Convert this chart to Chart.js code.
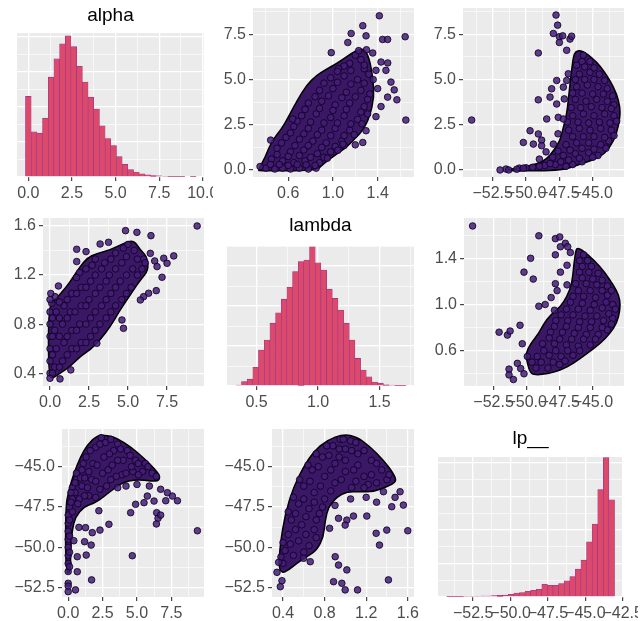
<!DOCTYPE html>
<html>
<head>
<meta charset="utf-8">
<script src="https://cdn.jsdelivr.net/npm/chart.js@4.4.1/dist/chart.umd.min.js"></script>
<style>
  body { margin: 0; background: #fff; }
  #wrap { position: relative; width: 643px; height: 621px; overflow: hidden; }
  #wrap canvas { position: absolute; }
</style>
</head>
<body>
<div id="wrap">
  <canvas id="c11" width="213" height="207" style="left:0;top:0"></canvas>
  <canvas id="c12" width="214" height="207" style="left:214px;top:0"></canvas>
  <canvas id="c13" width="215" height="207" style="left:428px;top:0"></canvas>
  <canvas id="c21" width="214" height="207" style="left:0;top:207px"></canvas>
  <canvas id="c22" width="214" height="207" style="left:214px;top:207px"></canvas>
  <canvas id="c23" width="215" height="207" style="left:428px;top:207px"></canvas>
  <canvas id="c31" width="214" height="207" style="left:0;top:414px"></canvas>
  <canvas id="c32" width="214" height="207" style="left:214px;top:414px"></canvas>
  <canvas id="c33" width="210" height="207" style="left:428px;top:414px"></canvas>
</div>
<script>
// histogram bins (centres) and counts
const alphaBins = [0, 0.326, 0.652, 0.978, 1.304, 1.63, 1.956, 2.282, 2.608, 2.934, 3.26, 3.586, 3.912, 4.238, 4.564,
  4.89, 5.216, 5.542, 5.868, 6.194, 6.52, 6.846, 7.172, 7.498, 7.824, 8.15, 8.476, 8.802, 9.128, 9.454];
const alphaCounts = [230, 129, 125, 168, 285, 337, 380, 403, 372, 316, 271, 228, 194, 146, 110,
  90, 58, 36, 21, 14, 9, 6, 4, 3, 2, 1, 1, 1, 0, 1];

const lambdaBins = [0.355, 0.401, 0.447, 0.493, 0.539, 0.586, 0.632, 0.678, 0.724, 0.77, 0.816, 0.862, 0.908, 0.954, 1.0,
  1.047, 1.093, 1.139, 1.185, 1.231, 1.277, 1.323, 1.369, 1.415, 1.461, 1.508, 1.554, 1.6, 1.646, 1.692];
const lambdaCounts = [2, 11, 17, 47, 90, 115, 157, 183, 217, 247, 286, 311, 315, 348, 308,
  290, 242, 219, 190, 157, 115, 69, 40, 23, 10, 7, 3, 2, 1, 1];

const lpBins = [-54.08, -53.706, -53.332, -52.958, -52.584, -52.21, -51.836, -51.462, -51.088, -50.714, -50.34, -49.966,
  -49.592, -49.218, -48.844, -48.47, -48.096, -47.722, -47.348, -46.974, -46.6, -46.226, -45.852, -45.478, -45.104,
  -44.73, -44.356, -43.982, -43.608, -43.234];
const lpCounts = [2, 2, 2, 4, 4, 4, 6, 6, 8, 10, 12, 16, 24, 26, 34, 40, 46, 76, 70, 70, 80, 96, 122, 166, 220,
  330, 436, 642, 832, 580];

// tick labels (major breaks) per axis
const alphaTicks = [0, 2.5, 5, 7.5, 10];
const lambdaTicksA = [0.6, 1.0, 1.4];
const lambdaTicksB = [0.4, 0.8, 1.2, 1.6];
const lambdaTicksHist = [0.5, 1.0, 1.5];
const lpTicks = [-52.5, -50, -47.5, -45, -42.5];

// upper triangle: lambda (x) vs alpha (y)
const upLambdaAlpha = [[0.40,0.1],[0.48,0.05],[0.55,0.1],[0.62,0.05],[0.70,0.1],[0.78,0.05],[0.85,0.1],
  [0.45,0.6],[0.55,0.5],[0.65,0.4],[0.75,0.5],[0.88,0.4],[0.50,1.2],[0.62,1.0],[0.74,1.1],[0.86,0.9],[0.98,1.0],
  [0.58,1.8],[0.70,1.7],[0.82,1.6],[0.94,1.5],[1.08,1.6],[0.65,2.4],[0.78,2.3],[0.90,2.2],[1.02,2.3],[1.15,2.2],
  [0.72,3.0],[0.85,3.1],[0.98,2.9],[1.10,3.0],[1.22,2.8],[0.78,3.7],[0.90,3.8],[1.02,3.6],[1.15,3.7],[1.28,3.5],
  [0.88,4.4],[1.00,4.5],[1.12,4.3],[1.25,4.4],[1.33,4.2],[0.98,5.1],[1.10,5.2],[1.22,5.0],[1.32,5.3],[1.15,5.9],
  [1.25,6.1],[1.05,5.6],
  [0.44,0.3],[0.52,0.3],[0.60,0.25],[0.68,0.3],[0.76,0.28],[0.84,0.25],[0.50,0.85],[0.60,0.75],[0.70,0.8],
  [0.80,0.7],[0.92,0.7],[0.95,0.65],[0.54,1.5],[0.66,1.35],[0.78,1.35],[0.90,1.25],[1.02,1.3],[1.1,1.35],
  [0.62,2.05],[0.74,2.0],[0.86,1.95],[0.98,1.9],[1.10,1.9],[1.19,1.95],[0.68,2.7],[0.80,2.65],[0.92,2.6],
  [1.04,2.6],[1.16,2.55],[1.26,2.55],[0.75,3.35],[0.88,3.4],[1.0,3.3],[1.12,3.35],[1.25,3.2],[1.31,3.1],
  [0.84,4.05],[0.96,4.1],[1.08,4.0],[1.2,4.05],[1.31,3.9],[0.92,4.8],[1.04,4.85],[1.16,4.75],[1.28,4.8],
  [1.04,5.45],[1.16,5.5],[1.28,5.6],[1.1,5.75],[1.2,6.35],[1.28,5.8],
  [1.415,8.53],[1.267,7.98],[1.163,7.55],[1.296,7.42],[1.444,7.22],[1.489,7.22],[1.646,7.37],[1.133,7.05],
  [0.985,6.49],[1.356,6.47],[1.43,5.97],[1.49,5.92],[1.385,5.51],[1.474,5.51],[1.519,4.86],[1.548,4.43],
  [1.489,4.03],[1.572,3.88],[1.43,3.51],[1.652,2.76],[1.385,2.95],[1.296,2.17],[1.267,1.52],[1.2,1.39],
  [1.089,1.43],[1.044,1.09],[0.64,2.82],[0.443,1.65],[0.348,0.19],[1.23,6.6],[1.3,6.65],[1.36,5.0],[1.4,4.5]];
const upLambdaAlphaCore = [[0.333,0.0],[0.393,0.69],[0.452,1.61],[0.541,2.26],[0.6,2.91],[0.68,3.84],[0.763,4.68],
  [0.852,5.23],[0.926,5.51],[1.03,5.88],[1.119,6.25],[1.207,6.62],[1.281,6.72],[1.326,6.16],[1.356,5.14],
  [1.37,4.03],[1.326,2.91],[1.267,2.17],[1.207,1.8],[1.119,1.24],[1.03,0.87],[0.911,0.32],[0.852,-0.05],[0.34,-0.05]];

// upper triangle: lp (x) vs alpha (y)
const upLpAlpha = [[-51.5,0.05],[-50.5,0.1],[-49.5,0.15],[-48.6,0.25],[-47.8,0.3],[-47.0,0.2],[-46.5,0.3],[-45.8,0.45],
  [-48.0,0.7],[-47.2,0.8],[-46.3,0.9],[-45.3,0.95],[-44.6,0.8],[-47.0,1.4],[-46.2,1.5],[-45.3,1.5],[-44.4,1.4],
  [-43.8,1.6],[-46.8,2.2],[-46.0,2.3],[-45.2,2.2],[-44.4,2.3],[-43.6,2.2],[-46.5,3.0],[-45.7,3.1],[-44.9,3.0],
  [-44.1,3.1],[-43.4,3.0],[-46.3,3.9],[-45.5,3.8],[-44.7,3.9],[-43.9,3.8],[-43.4,3.6],[-46.2,4.6],[-45.4,4.7],
  [-44.6,4.6],[-43.9,4.5],[-46.0,5.3],[-45.2,5.4],[-44.5,5.3],[-45.8,6.0],[-45.2,6.0],
  [-50.0,0.12],[-49.0,0.2],[-48.2,0.35],[-47.4,0.45],[-46.8,0.55],[-46.0,0.65],[-45.0,0.7],[-47.6,1.05],
  [-46.7,1.1],[-45.8,1.2],[-44.9,1.15],[-44.0,1.2],[-46.5,1.85],[-45.7,1.85],[-44.9,1.85],[-44.1,1.8],[-43.4,1.9],
  [-46.9,2.65],[-46.1,2.65],[-45.3,2.6],[-44.5,2.65],[-43.7,2.6],[-43.2,2.7],[-46.6,3.45],[-45.9,3.45],[-45.1,3.5],
  [-44.3,3.45],[-43.6,3.4],[-46.5,4.25],[-45.8,4.25],[-45.0,4.2],[-44.2,4.2],[-43.5,4.1],[-46.3,5.0],[-45.6,5.0],
  [-44.9,5.0],[-44.1,4.95],[-45.6,5.7],[-44.9,5.65],[-46.2,5.8],[-45.7,6.35],
  [-54.08,2.76],[-51.95,0.0],[-51.3,0.0],[-50.7,0.04],[-50.2,0.1],[-47.75,8.57],[-47.63,8.01],[-47.95,7.55],
  [-47.5,7.37],[-47.25,7.42],[-47.5,7.05],[-46.7,7.24],[-46.58,7.4],[-49.08,6.47],[-46.95,6.62],[-46.83,5.32],
  [-46.95,4.95],[-47.7,4.95],[-47.2,4.58],[-48.08,4.49],[-48.2,4.03],[-49.08,3.88],[-47.13,3.93],[-47.7,3.65],
  [-48.45,2.82],[-47.58,2.91],[-47.2,2.82],[-49.7,2.17],[-49.08,1.99],[-50.2,1.52],[-49.45,1.43],[-48.83,1.65],
  [-48.83,1.34],[-47.95,1.43],[-48.5,1.0],[-49.0,0.6],[-47.6,2.0]];
const upLpAlphaCore = [[-47.45,-0.05],[-46.0,0.3],[-44.45,0.69],[-43.7,1.24],[-43.2,1.99],[-42.95,2.91],[-42.95,3.47],
  [-43.2,4.21],[-43.7,4.95],[-44.2,5.51],[-44.7,5.97],[-45.45,6.44],[-45.95,6.62],[-46.3,6.55],[-46.45,6.25],
  [-46.58,5.51],[-46.7,4.77],[-46.83,3.84],[-46.95,3.1],[-47.2,2.36],[-47.45,1.61],[-47.95,1.06],[-48.45,0.59],
  [-49.2,0.32],[-50.45,0.13],[-51.95,-0.05]];

// upper triangle: lp (x) vs lambda (y)
const upLpLambda = [[-49.3,0.45],[-48.4,0.45],[-47.5,0.48],[-49.2,0.55],[-48.3,0.56],[-47.4,0.55],[-46.5,0.56],
  [-48.8,0.66],[-47.9,0.66],[-47.0,0.65],[-46.1,0.64],[-45.2,0.65],[-48.2,0.76],[-47.3,0.76],[-46.4,0.75],
  [-45.5,0.74],[-44.6,0.74],[-43.9,0.78],[-47.8,0.86],[-46.9,0.86],[-46.0,0.85],[-45.1,0.85],[-44.2,0.86],
  [-43.5,0.88],[-47.0,0.96],[-46.1,0.96],[-45.2,0.95],[-44.3,0.97],[-43.5,1.0],[-46.5,1.07],[-45.7,1.07],
  [-44.8,1.06],[-43.9,1.08],[-46.3,1.18],[-45.5,1.18],[-44.7,1.17],[-43.9,1.16],[-46.0,1.28],[-45.3,1.28],
  [-44.6,1.27],[-46.0,1.38],[-45.4,1.38],
  [-49.6,0.5],[-48.9,0.5],[-48.0,0.5],[-47.1,0.51],[-48.7,0.6],[-47.8,0.6],[-46.9,0.6],[-46.0,0.6],[-48.3,0.71],
  [-47.5,0.7],[-46.6,0.7],[-45.7,0.7],[-44.8,0.7],[-47.9,0.81],[-47.0,0.81],[-46.1,0.8],[-45.2,0.8],[-44.3,0.8],
  [-43.6,0.83],[-47.4,0.91],[-46.5,0.91],[-45.6,0.9],[-44.7,0.9],[-43.8,0.92],[-43.3,0.96],[-46.7,1.02],
  [-45.8,1.01],[-44.9,1.0],[-44.0,1.02],[-46.1,1.12],[-45.2,1.12],[-44.3,1.12],[-43.6,1.12],[-45.8,1.23],
  [-45.0,1.22],[-44.3,1.21],[-45.8,1.33],[-45.1,1.33],[-45.7,1.43],
  [-54.08,1.68],[-49.08,1.595],[-47.83,1.57],[-47.5,1.585],[-47.08,1.53],[-47.45,1.5],[-47.83,1.43],[-49.7,1.4],
  [-50.2,1.28],[-49.5,1.22],[-46.95,1.34],[-47.45,1.28],[-47.83,1.18],[-47.7,1.12],[-48.15,1.06],[-46.95,1.17],
  [-49.08,0.985],[-52.08,0.76],[-51.45,0.735],[-51.25,0.77],[-50.5,0.82],[-50.33,0.66],[-49.95,0.55],[-50.7,0.49],
  [-51.33,0.44],[-51.33,0.39],[-51.0,0.35],[-50.45,0.445],[-50.2,0.40],[-48.6,1.0],[-47.9,0.95],[-46.7,1.45],[-46.9,1.5]];
const upLpLambdaCore = [[-46.2,1.5],[-45.45,1.44],[-44.45,1.33],[-43.7,1.21],[-43.2,1.12],[-42.95,1.04],[-42.95,0.95],
  [-43.2,0.835],[-43.7,0.75],[-44.45,0.66],[-45.45,0.575],[-46.45,0.49],[-47.45,0.43],[-48.45,0.40],[-49.2,0.39],
  [-49.7,0.4],[-49.95,0.49],[-50.08,0.575],[-49.7,0.66],[-49.08,0.75],[-48.7,0.835],[-48.2,0.91],[-47.45,0.98],
  [-46.95,1.07],[-46.58,1.18],[-46.45,1.33],[-46.33,1.44]];

// lower triangle: alpha (x) vs lambda (y)
const lowAlphaLambda = [[0,0.4],[0,0.5],[0,0.6],[0,0.7],[0,0.8],[0,0.9],[0.3,0.45],[0.4,0.6],[0.3,0.75],[0.4,0.9],
  [0.8,0.5],[0.9,0.65],[0.8,0.8],[0.9,0.95],[1.4,0.6],[1.4,0.75],[1.3,0.9],[1.4,1.05],[2.0,0.65],[1.9,0.8],
  [2.0,0.95],[2.0,1.1],[1.9,1.22],[2.6,0.7],[2.6,0.85],[2.5,1.0],[2.6,1.15],[2.7,1.28],[3.2,0.8],[3.3,0.95],
  [3.2,1.1],[3.3,1.25],[3.9,0.9],[3.9,1.05],[3.8,1.2],[3.9,1.33],[4.6,1.0],[4.5,1.15],[4.6,1.3],[4.7,1.42],
  [5.2,1.1],[5.3,1.25],[5.4,1.4],[5.9,1.25],[6.0,1.33],
  [0.15,0.4],[0.15,0.55],[0.15,0.7],[0.15,0.85],[0.6,0.45],[0.6,0.7],[0.6,0.85],[0.6,0.98],[1.1,0.55],[1.1,0.7],
  [1.1,0.85],[1.1,1.0],[1.7,0.6],[1.7,0.75],[1.6,0.9],[1.7,1.05],[1.7,1.18],[2.3,0.65],[2.3,0.8],[2.3,0.95],
  [2.3,1.1],[2.3,1.25],[2.9,0.75],[2.9,0.9],[2.9,1.05],[2.9,1.2],[2.9,1.33],[3.6,0.85],[3.6,1.0],[3.6,1.15],
  [3.5,1.3],[4.2,0.95],[4.2,1.1],[4.2,1.25],[4.2,1.38],[4.9,1.05],[4.9,1.2],[4.9,1.35],[5.0,1.45],[5.6,1.2],
  [5.6,1.33],[6.1,1.3],
  [9.43,1.6],[4.84,1.562],[5.57,1.548],[6.47,1.521],[3.21,1.453],[3.75,1.467],[1.71,1.41],[2.31,1.391],
  [1.71,1.31],[6.43,1.377],[6.71,1.315],[7.29,1.337],[7.93,1.356],[6.86,1.269],[7.5,1.296],[7.18,1.182],
  [6.81,1.073],[6.32,1.052],[6.0,1.024],[5.79,0.997],[0.54,1.111],[0.32,1.024],[4.61,0.834],[4.71,0.766],
  [3.0,0.644],[1.33,0.427],[0.64,0.354],[0,0.359],[0.11,0.97],[0,1.0],[0.05,1.05]];
const lowAlphaLambdaCore = [[-0.1,0.373],[-0.1,0.943],[0.32,0.997],[1.07,1.106],[1.5,1.187],[1.93,1.269],[2.36,1.337],
  [3.0,1.377],[3.86,1.404],[4.71,1.459],[5.36,1.486],[5.79,1.404],[6.21,1.35],[6.32,1.242],[5.79,1.16],
  [5.36,1.079],[4.93,0.997],[4.5,0.916],[3.86,0.78],[3.21,0.671],[2.57,0.59],[1.93,0.536],[1.29,0.454],
  [0.64,0.4],[0.21,0.359]];

// lower triangle: alpha (x) vs lp (y)
const lowAlphaLp = [[0,-51.5],[0,-51.0],[0,-50.5],[0,-50.0],[0,-49.5],[0,-49.0],[0,-48.5],[0,-48.0],[0.1,-47.5],
  [0.3,-47.0],[0.3,-46.3],[0.6,-45.8],[0.8,-47.0],[1.0,-46.2],[1.0,-45.2],[1.3,-44.4],[1.5,-46.8],[1.7,-45.8],
  [1.8,-44.8],[2.0,-43.8],[2.3,-46.4],[2.5,-45.4],[2.6,-44.4],[2.7,-43.5],[3.1,-45.8],[3.2,-44.9],[3.3,-44.0],
  [3.6,-43.6],[3.9,-45.5],[4.0,-44.6],[4.3,-44.0],[4.7,-45.3],[4.9,-44.6],[5.4,-45.3],[5.6,-44.8],[6.1,-45.4],
  [0.5,-46.6],[0.3,-47.8],
  [0.1,-51.2],[0.1,-50.3],[0.1,-49.3],[0.1,-48.3],[0.2,-47.2],[0.2,-46.6],[0.5,-46.0],[0.6,-45.4],[0.9,-45.7],
  [0.7,-47.3],[1.2,-46.8],[1.2,-45.7],[1.1,-44.8],[1.6,-44.0],[1.5,-45.3],[1.4,-46.3],[2.0,-46.9],[2.0,-45.9],
  [2.1,-44.9],[2.3,-43.6],[2.4,-43.2],[2.8,-46.2],[2.9,-45.2],[3.0,-44.2],[3.1,-43.3],[3.5,-45.6],[3.6,-44.6],
  [3.8,-43.9],[4.2,-45.4],[4.5,-44.3],[4.6,-45.0],[5.1,-45.5],[5.1,-44.8],[5.8,-45.0],[6.4,-45.6],
  [9.39,-48.97],[7.94,-47.11],[7.57,-46.82],[7.21,-46.61],[6.72,-46.4],[7.09,-47.11],[6.24,-47.13],[5.75,-46.82],
  [5.51,-47.23],[6.43,-47.85],[6.53,-48.2],[6.41,-48.55],[6.72,-48.0],[4.9,-47.33],[4.54,-47.85],[4.66,-50.52],
  [2.96,-48.57],[2.23,-47.73],[2.31,-48.93],[1.75,-49.09],[1.26,-48.78],[0.78,-48.76],[1.19,-49.65],[1.31,-50.48],
  [1.67,-49.86],[1.7,-52.02],[0.66,-50.58],[0.66,-51.51],[0.53,-52.64],[0,-52.23],[0,-52.75],[0.41,-49.59],
  [3.6,-46.3],[4.2,-46.2],[5.0,-46.1],[5.9,-46.2],[0,-52.4]];
const lowAlphaLpCore = [[-0.19,-51.61],[-0.19,-47.48],[0.05,-46.45],[0.41,-45.41],[0.9,-44.38],[1.38,-43.66],
  [2.11,-43.04],[2.84,-43.04],[3.57,-43.24],[4.54,-43.76],[5.51,-44.48],[6.24,-45.1],[6.72,-45.62],[6.48,-45.93],
  [5.51,-45.83],[4.78,-45.83],[4.05,-45.93],[3.33,-46.34],[2.6,-46.86],[1.87,-47.27],[1.14,-47.48],[0.53,-48.1],
  [0.29,-48.93],[0.17,-50.17],[0.17,-51.61]];

// lower triangle: lambda (x) vs lp (y)
const lowLambdaLp = [[0.40,-51.0],[0.42,-50.2],[0.50,-50.5],[0.45,-49.2],[0.55,-49.6],[0.65,-49.9],[0.48,-48.3],
  [0.58,-48.6],[0.70,-48.9],[0.55,-47.3],[0.65,-47.6],[0.75,-47.9],[0.60,-46.2],[0.70,-46.6],[0.80,-47.0],
  [0.68,-45.2],[0.80,-45.6],[0.90,-46.0],[0.78,-44.4],[0.90,-44.8],[1.0,-45.3],[1.1,-45.9],[0.88,-43.7],
  [1.0,-43.9],[1.0,-44.6],[1.12,-44.2],[1.12,-44.9],[1.25,-44.6],[1.25,-45.5],[1.35,-45.2],[1.4,-45.8],
  [1.22,-46.1],[1.05,-43.4],[0.95,-43.3],
  [0.38,-50.6],[0.40,-49.7],[0.47,-49.8],[0.60,-50.3],[0.52,-48.9],[0.62,-49.2],[0.72,-49.4],[0.45,-47.8],
  [0.52,-47.9],[0.62,-48.1],[0.72,-48.3],[0.50,-46.9],[0.60,-47.0],[0.70,-47.2],[0.78,-47.5],[0.56,-45.8],
  [0.66,-45.9],[0.76,-46.2],[0.86,-46.5],[0.64,-44.9],[0.74,-45.0],[0.86,-45.2],[0.96,-45.8],[1.06,-46.3],
  [0.72,-44.2],[0.84,-44.3],[0.94,-44.4],[1.08,-45.2],[1.18,-45.6],[1.18,-46.3],[1.3,-46.0],[0.82,-43.7],
  [0.94,-43.9],[1.06,-44.0],[1.18,-44.0],[1.3,-44.8],[1.42,-45.5],[0.98,-43.3],[1.1,-43.5],
  [1.6,-48.97],[1.398,-48.93],[1.296,-49.13],[1.328,-49.86],[1.414,-52.02],[1.446,-47.48],[1.558,-47.38],
  [1.526,-46.55],[1.478,-46.9],[1.366,-46.55],[1.206,-48.06],[1.078,-48.06],[1.014,-48.31],[0.998,-48.62],
  [0.934,-48.2],[0.848,-48.82],[0.902,-50.58],[0.934,-51.1],[1.014,-51.4],[1.117,-52.64],[0.998,-52.64],
  [0.966,-52.23],[0.886,-52.13],[0.662,-50.89],[0.598,-50.68],[0.374,-52.44],[0.39,-52.07],[0.342,-51.55],
  [0.358,-50.93],[1.2,-46.9],[1.3,-47.2],[1.05,-47.0],[0.9,-47.4]];
const lowLambdaLpCore = [[0.358,-51.2],[0.374,-49.75],[0.422,-47.89],[0.502,-46.24],[0.598,-45.0],[0.694,-44.07],
  [0.822,-43.35],[0.982,-42.98],[1.11,-43.14],[1.238,-43.76],[1.366,-44.59],[1.462,-45.41],[1.494,-45.93],
  [1.398,-46.24],[1.27,-46.55],[1.142,-46.55],[1.014,-46.55],[0.918,-46.86],[0.838,-47.48],[0.806,-48.31],
  [0.79,-49.34],[0.726,-50.17],[0.63,-50.58],[0.534,-50.99],[0.454,-51.4],[0.39,-51.61]];

const FONT = "'Liberation Sans', Arial, Helvetica, sans-serif";
const BAR_FILL = "#dc4a6b";
const BAR_EDGE = "#9a2f93";
const PT_FILL = "rgba(70,28,122,0.85)";
const PT_EDGE = "rgba(10,3,26,0.92)";
const CORE_FILL = "#3a1866";

const fmt = v => v.toFixed(1).replace("-", "\u2212");

// grey panel background like theme_gray
const panelBg = {
  id: "panelBg",
  beforeDraw(chart) {
    const a = chart.chartArea, ctx = chart.ctx;
    ctx.save();
    ctx.fillStyle = "#EBEBEB";
    ctx.fillRect(a.left, a.top, a.right - a.left, a.bottom - a.top);
    ctx.restore();
  }
};

// dense overplotted region, drawn through the chart scales
function coreLayer(poly) {
  return {
    id: "core",
    beforeDatasetsDraw(chart) {
      const sx = chart.scales.x, sy = chart.scales.y, a = chart.chartArea, ctx = chart.ctx;
      const p = poly.map(([x, y]) => [sx.getPixelForValue(x), sy.getPixelForValue(y)]);
      const n = p.length;
      const mid = i => [(p[i][0] + p[(i + 1) % n][0]) / 2, (p[i][1] + p[(i + 1) % n][1]) / 2];
      ctx.save();
      ctx.beginPath();
      ctx.rect(a.left, a.top, a.right - a.left, a.bottom - a.top);
      ctx.clip();
      ctx.beginPath();
      const m0 = mid(n - 1);
      ctx.moveTo(m0[0], m0[1]);
      for (let i = 0; i < n; i++) {
        const q = mid(i);
        ctx.quadraticCurveTo(p[i][0], p[i][1], q[0], q[1]);
      }
      ctx.closePath();
      ctx.fillStyle = CORE_FILL;
      ctx.fill();
      ctx.lineWidth = 1.5;
      ctx.strokeStyle = "#000";
      ctx.stroke();
      ctx.restore();
    }
  };
}

function halfSteps(majors) {
  const step = majors[1] - majors[0];
  const out = [majors[0] - step / 2];
  majors.forEach(m => out.push(m + step / 2));
  return out;
}

function axis(min, max, majors, size, labels) {
  const all = majors.concat(halfSteps(majors)).filter(v => v >= min && v <= max).sort((a, b) => a - b);
  const isMajor = v => majors.some(m => Math.abs(m - v) < 1e-9);
  return {
    type: "linear",
    min: min,
    max: max,
    offset: false,
    afterBuildTicks: s => { s.ticks = all.map(v => ({ value: v })); },
    afterFit: s => {
      if (s.isHorizontal()) { s.height = size; s.paddingLeft = 0; s.paddingRight = 0; }
      else { s.width = size; s.paddingTop = 0; s.paddingBottom = 0; }
    },
    border: { display: false },
    grid: {
      offset: false,
      color: "#FFFFFF",
      lineWidth: c => (c.tick && isMajor(c.tick.value)) ? 1.3 : 0.6,
      drawTicks: labels,
      tickLength: 4,
      tickWidth: 1.1,
      tickColor: c => (c.tick && isMajor(c.tick.value)) ? "#333333" : "rgba(0,0,0,0)"
    },
    ticks: {
      display: labels,
      autoSkip: false,
      maxRotation: 0,
      minRotation: 0,
      padding: 3,
      color: "#4D4D4D",
      font: { family: FONT, size: 16 },
      callback: v => isMajor(v) ? fmt(v) : ""
    }
  };
}

function baseOptions(pad, xAxis, yAxis, title) {
  return {
    responsive: false,
    animation: false,
    events: [],
    layout: { padding: pad, autoPadding: false },
    plugins: {
      legend: { display: false },
      tooltip: { enabled: false },
      title: title || { display: false }
    },
    scales: { x: xAxis, y: yAxis }
  };
}

function histPanel(id, name, bins, counts, xAxis, yAxis, pad, tPad) {
  new Chart(document.getElementById(id), {
    type: "bar",
    data: {
      datasets: [{
        data: bins.map((b, i) => ({ x: b, y: counts[i] })),
        backgroundColor: BAR_FILL,
        borderColor: BAR_EDGE,
        borderWidth: 0.6,
        barPercentage: 1,
        categoryPercentage: 1
      }]
    },
    options: baseOptions(pad, xAxis, yAxis, {
      display: true,
      text: name,
      color: "#000000",
      fullSize: false,
      font: { family: FONT, size: 19, weight: "normal" },
      padding: tPad
    }),
    plugins: [panelBg]
  });
}

function scatterPanel(id, pts, core, xAxis, yAxis, pad) {
  new Chart(document.getElementById(id), {
    type: "scatter",
    data: {
      datasets: [{
        data: pts.map(([x, y]) => ({ x: x, y: y })),
        pointRadius: 3.3,
        pointBackgroundColor: PT_FILL,
        pointBorderColor: PT_EDGE,
        pointBorderWidth: 0.9
      }]
    },
    options: baseOptions(pad, xAxis, yAxis),
    plugins: [panelBg, coreLayer(core)]
  });
}

// row 1
histPanel("c11", "alpha", alphaBins, alphaCounts,
  axis(-0.65, 10.07, alphaTicks, 30, true),
  axis(0, 411, [0, 100, 200, 300, 400], 17, false),
  { left: 0, right: 9, top: 0, bottom: 0 }, { top: 4.6, bottom: 5.6 });
scatterPanel("c12", upLambdaAlpha, upLambdaAlphaCore,
  axis(0.285, 1.725, lambdaTicksA, 30, true),
  axis(-0.39, 8.96, alphaTicks, 39, true),
  { left: 0, right: 14, top: 8, bottom: 0 });
scatterPanel("c13", upLpAlpha, upLpAlphaCore,
  axis(-54.73, -42.65, lpTicks, 30, true),
  axis(-0.39, 8.96, alphaTicks, 35, true),
  { left: 0, right: 19, top: 8, bottom: 0 });

// row 2
scatterPanel("c21", lowAlphaLambda, lowAlphaLambdaCore,
  axis(-0.45, 9.87, alphaTicks, 28, true),
  axis(0.296, 1.665, lambdaTicksB, 43, true),
  { left: 0, right: 10, top: 11, bottom: 0 });
histPanel("c22", "lambda", lambdaBins, lambdaCounts,
  axis(0.26, 1.78, lambdaTicksHist, 28, true),
  axis(0, 350, [0, 100, 200, 300], 13, false),
  { left: 0, right: 14, top: 0, bottom: 0 }, { top: 7.4, bottom: 8.8 });
scatterPanel("c23", upLpLambda, upLpLambdaCore,
  axis(-54.73, -42.65, lpTicks, 28, true),
  axis(0.294, 1.749, lambdaTicksA, 36, true),
  { left: 0, right: 19, top: 11, bottom: 0 });

// row 3
scatterPanel("c31", lowAlphaLp, lowAlphaLpCore,
  axis(-0.45, 9.87, alphaTicks, 24, true),
  axis(-53.08, -42.66, lpTicks, 62, true),
  { left: 0, right: 10, top: 15, bottom: 0 });
scatterPanel("c32", lowLambdaLp, lowLambdaLpCore,
  axis(0.294, 1.66, lambdaTicksB, 24, true),
  axis(-53.08, -42.66, lpTicks, 58, true),
  { left: 0, right: 14, top: 15, bottom: 0 });
histPanel("c33", "lp__", lpBins, lpCounts,
  axis(-54.85, -42.48, lpTicks, 24, true),
  axis(0, 836, [0, 200, 400, 600, 800], 10, false),
  { left: 0, right: 15, top: 0, bottom: 0 }, { top: 13.1, bottom: 7.1 });
</script>
</body>
</html>
